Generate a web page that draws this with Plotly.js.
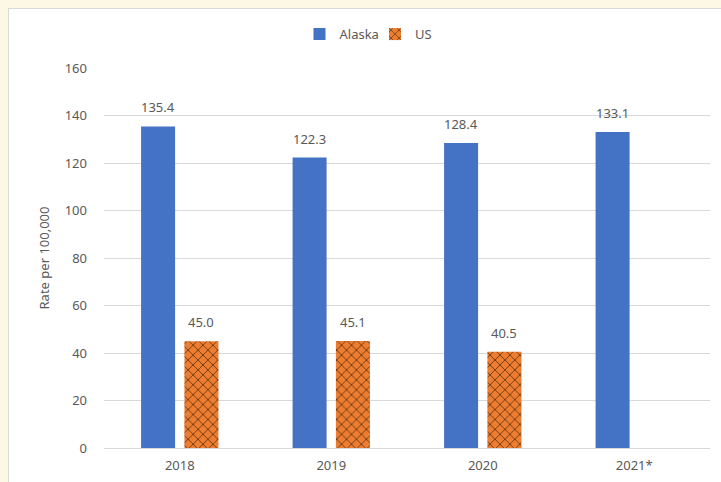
<!DOCTYPE html>
<html>
<head>
<meta charset="utf-8">
<script src="https://cdn.plot.ly/plotly-3.0.1.min.js"></script>
<style>
html,body{margin:0;padding:0;background:#FDF8E5;width:721px;height:482px;overflow:hidden;}
#frame{position:absolute;left:8px;top:8px;width:713px;height:474px;background:#fff;border-left:1px solid #D9D9D9;border-top:1px solid #D9D9D9;box-sizing:border-box;}
#chart{position:absolute;left:1px;top:1px;width:712px;height:473px;}
</style>
</head>
<body>
<div id="frame"><div id="chart"></div></div>
<script>
const categories = ["2018", "2019", "2020", "2021*"];
const alaska = [135.4, 122.3, 128.4, 133.1];
const us = [45.0, 45.1, 40.5, null];
const yTicks = [0, 20, 40, 60, 80, 100, 120, 140, 160];

const labelFont = {family: "Noto Sans, sans-serif", size: 13, color: "#595959"};
const BARGAP = 0.428, GROUPGAP = 0.215;
const offset = (1 - BARGAP) / 4;

const traces = [
  {
    type: "bar", name: "Alaska", x: categories, y: alaska,
    marker: {color: "#4472C4"}, legend: "legend"
  },
  {
    type: "bar", name: "US", x: categories, y: us,
    marker: {color: "#ED7D31", pattern: {shape: "x", fgcolor: "#3a1e08", bgcolor: "#ED7D31", size: 7, solidity: 0.18, fillmode: "replace"}},
    legend: "legend2"
  }
];

const annotations = [];
[[alaska, -offset], [us, offset]].forEach(([vals, dx]) => {
  vals.forEach((v, i) => {
    if (v == null) return;
    annotations.push({x: i + dx, y: v, xref: "x", yref: "y", text: v.toFixed(1), showarrow: false,
      yanchor: "bottom", yshift: 8, font: labelFont});
  });
});

const legendBase = {orientation: "h", xref: "container", yref: "container", xanchor: "left", y: 0.949, yanchor: "middle",
  font: {family: "Noto Sans, sans-serif", size: 13, color: "#595959"}, itemwidth: 30, bgcolor: "rgba(0,0,0,0)"};

const layout = {
  width: 712, height: 473,
  margin: {l: 94, r: 12, t: 58, b: 35},
  paper_bgcolor: "#ffffff", plot_bgcolor: "#ffffff",
  barmode: "group", bargap: BARGAP, bargroupgap: GROUPGAP,
  font: labelFont,
  showlegend: true,
  legend: Object.assign({}, legendBase, {x: 0.4066}),
  legend2: Object.assign({}, legendBase, {x: 0.5126}),
  annotations: annotations,
  xaxis: {type: "category", showgrid: false, showline: true, linecolor: "#D9D9D9", linewidth: 1, ticks: "", tickfont: labelFont, ticklabelstandoff: 5},
  yaxis: {range: [0, 160], tickvals: yTicks, showgrid: true, gridcolor: "#D9D9D9", gridwidth: 1, zeroline: false, showline: false, ticks: "",
          tickfont: labelFont, ticklabelstandoff: 16,
          title: {text: "Rate per 100,000", font: labelFont, standoff: 12}}
};

Plotly.newPlot("chart", traces, layout, {displayModeBar: false, staticPlot: true});
</script>
</body>
</html>
